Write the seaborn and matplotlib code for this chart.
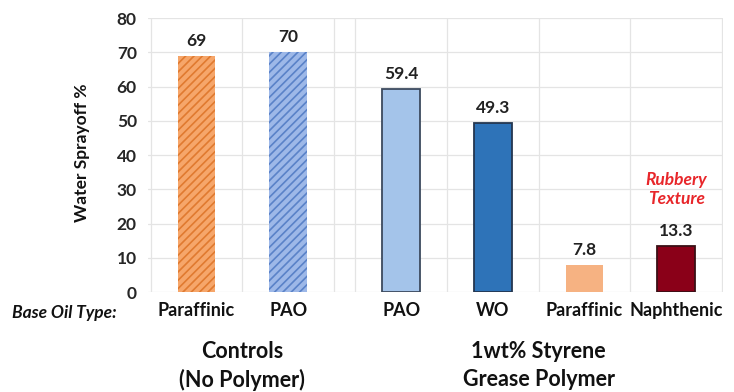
import matplotlib
matplotlib.use("Agg")
import matplotlib.pyplot as plt
import matplotlib.transforms as mtransforms
import seaborn as sns
import pandas as pd

# Data
categories = ["Paraffinic", "PAO", "PAO", "WO", "Paraffinic", "Naphthenic"]
sprayoff = [69, 70, 59.4, 49.3, 7.8, 13.3]
value_labels = ["69", "70", "59.4", "49.3", "7.8", "13.3"]
group_lines = [["Controls", "(No Polymer)"], ["1wt% Styrene", "Grease Polymer"]]
group_members = [[0, 1], [2, 3, 4, 5]]
y_ticks = [0, 10, 20, 30, 40, 50, 60, 70, 80]

# Layout / styling
positions = [0, 1, 2.23, 3.23, 4.23, 5.23]
face_colors = ["#F6A66A", "#9DB8E8", "#A4C4EA", "#2E73B8", "#F6B282", "#8A0018"]
hatch_colors = ["#E07A30", "#5A82C8", None, None, None, None]
edge_colors = [None, None, "#3C4A5E", "#24364F", None, "#3A1016"]
hatches = ["////", "////", None, None, None, None]

sns.set_theme(style="white")
plt.rcParams["font.family"] = ["Lato", "DejaVu Sans"]
plt.rcParams["hatch.linewidth"] = 1.2

fig = plt.figure(figsize=(7.34, 3.92), dpi=100)
ax = fig.add_axes([0.2016, 0.255, 0.7834, 0.699])

df = pd.DataFrame({"pos": positions, "value": sprayoff})
sns.barplot(data=df, x="pos", y="value", native_scale=True, width=0.41,
            color=face_colors[0], ax=ax, errorbar=None, zorder=3)

for i, patch in enumerate(ax.patches):
    patch.set_facecolor(face_colors[i])
    if hatches[i]:
        patch.set_hatch(hatches[i])
        patch.set_edgecolor(hatch_colors[i])
        patch.set_linewidth(0)
    elif edge_colors[i]:
        patch.set_edgecolor(edge_colors[i])
        patch.set_linewidth(1.3)
    else:
        patch.set_edgecolor("none")
        patch.set_linewidth(0)

ax.set_xlim(-0.53, 5.74)
ax.set_ylim(0, 80)
ax.set_yticks(y_ticks)
ax.set_yticklabels([str(t) for t in y_ticks], fontsize=12.5, fontweight="bold", color="#262626")
ax.tick_params(axis="y", length=0, pad=8)

ax.set_xticks(positions)
ax.set_xticklabels(categories, fontsize=13, fontweight="bold", color="#111111")
ax.tick_params(axis="x", length=0, pad=7)
ax.set_xlabel("")
ax.set_ylabel("Water Sprayoff %", fontsize=12.5, fontweight="bold", color="#111111")
ax.yaxis.set_label_coords(-0.101, 0.51)

# Gridlines
for y in y_ticks:
    ax.axhline(y, color="#E4E4E4", lw=0.9, zorder=0)
for x in [-0.5, 0.5, 1.5, 1.73, 2.73, 3.73, 4.73, 5.73]:
    ax.axvline(x, color="#E4E4E4", lw=0.9, zorder=0)

for s in ax.spines.values():
    s.set_visible(False)

# Value labels
for p, v, lab in zip(positions, sprayoff, value_labels):
    ax.text(p, v + 4.4, lab, ha="center", va="center", fontsize=12.5,
            fontweight="bold", color="#222222")

# Annotation above the naphthenic bar
ax.text(positions[5], 30, "Rubbery\nTexture", ha="center", va="center",
        fontsize=12.5, fontweight="bold", style="italic", color="#E8262A",
        linespacing=1.25)

# Row title for category labels
fig.text(0.087, 1 - 313 / 392, "Base Oil Type:", ha="center", va="center",
         fontsize=12.5, fontweight="bold", style="italic", color="#111111")

# Group labels, two lines each
blend = mtransforms.blended_transform_factory(ax.transData, fig.transFigure)
for lines, members in zip(group_lines, group_members):
    xc = sum(positions[m] for m in members) / len(members)
    for line, yf in zip(lines, [1 - 352 / 392, 1 - 380 / 392]):
        ax.text(xc, yf, line, ha="center", va="center", fontsize=15.5,
                fontweight="bold", color="#111111", transform=blend,
                clip_on=False)

fig.savefig("out.png", dpi=100)
